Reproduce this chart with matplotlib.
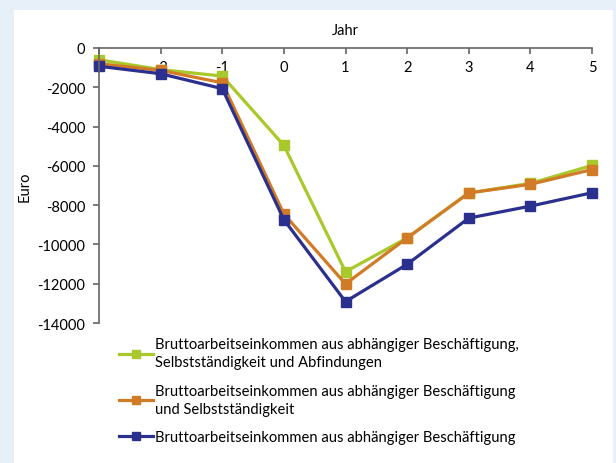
import matplotlib.pyplot as plt
from matplotlib.patches import Rectangle

# data
jahre = [-3, -2, -1, 0, 1, 2, 3, 4, 5]
mit_abfindungen = [-600, -1100, -1430, -4960, -11390, -9670, -7380, -6890, -5980]
mit_selbst = [-800, -1140, -1770, -8450, -12010, -9670, -7380, -6940, -6190]
nur_abhaengig = [-930, -1310, -2070, -8740, -12910, -11010, -8660, -8050, -7370]

labels = ['Bruttoarbeitseinkommen aus abhängiger Beschäftigung,\nSelbstständigkeit und Abfindungen',
          'Bruttoarbeitseinkommen aus abhängiger Beschäftigung\nund Selbstständigkeit',
          'Bruttoarbeitseinkommen aus abhängiger Beschäftigung']
farben = ['#a9c82b', '#d27b27', '#2b2f8d']
yticks = list(range(0, -14001, -2000))

plt.rcParams['font.family'] = ['Lato', 'DejaVu Sans']
plt.rcParams['axes.unicode_minus'] = False

fig = plt.figure(figsize=(6.16, 4.64), dpi=100)
fig.patch.set_facecolor('#e7eff9')
# white panel behind everything
fig.patches.append(Rectangle((14/616, 0), (613-14)/616, 1 - 11/464,
                             transform=fig.transFigure, facecolor='white',
                             edgecolor='none', zorder=-5))

ax = fig.add_axes([99/616, 1 - 324/464, (592-99)/616, (324-49)/464])
ax.set_zorder(2)
ax.set_facecolor('none')

for serie, farbe, label in zip([mit_abfindungen, mit_selbst, nur_abhaengig], farben, labels):
    ax.plot(jahre, serie, color=farbe, lw=2.3, marker='s', ms=6.5, label=label, clip_on=False)

ax.set_xlim(-3, 5)
ax.set_ylim(-14000, 0)
ax.set_xticks(jahre)
ax.set_yticks(yticks)
ax.set_yticklabels([str(v) for v in yticks])

ax.spines['top'].set_visible(False)
ax.spines['right'].set_visible(False)
ax.spines['bottom'].set_position(('data', 0))
for s in ['left', 'bottom']:
    ax.spines[s].set_color('#666666')
    ax.spines[s].set_linewidth(1.2)
ax.tick_params(axis='both', colors='#666666', labelcolor='black', labelsize=10.5,
               length=4, width=1.2, direction='out')
ax.tick_params(axis='x', pad=5)
ax.tick_params(axis='y', pad=6)

ax.set_title('Jahr', fontsize=10.5, pad=10)
ax.set_ylabel('Euro', fontsize=10.5, labelpad=4)

leg = fig.legend(loc='upper left', bbox_to_anchor=(106/616, 1 - 325/464),
                 frameon=False, fontsize=10.6, handlelength=2.3, handletextpad=0.1,
                 labelspacing=1.0, markerscale=0.8)
for t in leg.get_texts():
    t.set_linespacing(1.35)

fig.savefig('out.png', dpi=100, facecolor=fig.get_facecolor())
